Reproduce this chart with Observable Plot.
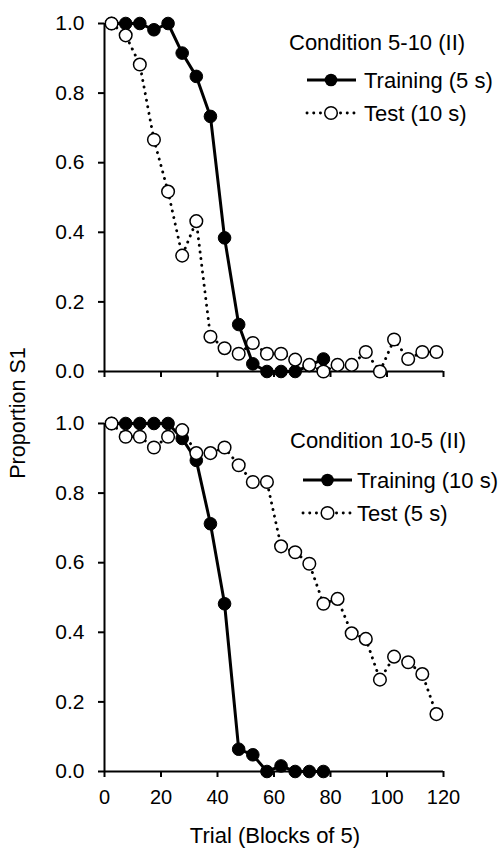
<!DOCTYPE html>
<html>
<head>
<meta charset="utf-8">
<script src="https://cdn.jsdelivr.net/npm/d3@7"></script>
<script src="https://cdn.jsdelivr.net/npm/@observablehq/plot@0.6"></script>
<style>
  body { margin: 0; background: #fff; }
  #wrap { position: relative; width: 501px; height: 850px; font-family: "Liberation Sans", Arial, sans-serif; color: #000; }
  #wrap svg { display: block; }
  #wrap svg [aria-label="y-axis tick label"] { font-size: 21px; }
  #wrap svg [aria-label="x-axis tick label"] { font-size: 20px; }
  #ylab { position: absolute; left: 18.5px; top: 413px; transform: translate(-50%, -50%) rotate(-90deg); font-size: 21.5px; white-space: nowrap; line-height: 1; }
</style>
</head>
<body>
<div id="wrap"><div id="ylab">Proportion S1</div></div>
<script>
// Trial block midpoints
const trialsTrain = [2.5, 7.5, 12.5, 17.5, 22.5, 27.5, 32.5, 37.5, 42.5, 47.5, 52.5, 57.5, 62.5, 67.5, 72.5, 77.5];
const trialsTest = [2.5, 7.5, 12.5, 17.5, 22.5, 27.5, 32.5, 37.5, 42.5, 47.5, 52.5, 57.5, 62.5, 67.5, 72.5, 77.5, 82.5, 87.5, 92.5, 97.5, 102.5, 107.5, 112.5, 117.5];

// Condition 5-10 (II)
const trainA = [1.0, 1.0, 1.0, 0.982, 1.0, 0.915, 0.848, 0.733, 0.384, 0.135, 0.022, 0, 0, 0, 0.017, 0.036];
const testA = [1.0, 0.966, 0.882, 0.666, 0.517, 0.333, 0.432, 0.1, 0.067, 0.051, 0.082, 0.051, 0.051, 0.034, 0.019, 0.0, 0.019, 0.019, 0.056, 0.0, 0.092, 0.036, 0.056, 0.056];

// Condition 10-5 (II)
const trainB = [1.0, 1.0, 1.0, 1.0, 1.0, 0.957, 0.894, 0.712, 0.482, 0.064, 0.048, 0, 0.016, 0, 0, 0];
const testB = [1.0, 0.962, 0.962, 0.931, 0.962, 0.981, 0.915, 0.915, 0.931, 0.88, 0.832, 0.832, 0.647, 0.63, 0.597, 0.482, 0.496, 0.397, 0.381, 0.264, 0.33, 0.314, 0.28, 0.165];

const yTicks = [0, 0.2, 0.4, 0.6, 0.8, 1.0];
const xTicks = [0, 20, 40, 60, 80, 100, 120];

const panels = [
  {title: "Condition 5-10 (II)", trainLabel: "Training (5 s)", testLabel: "Test (10 s)", train: trainA, test: testA, bottom: false},
  {title: "Condition 10-5 (II)", trainLabel: "Training (10 s)", testLabel: "Test (5 s)", train: trainB, test: testB, bottom: true}
];

const FONT = "'Liberation Sans', Arial, sans-serif";
const wrap = document.getElementById("wrap");

panels.forEach((p, i) => {
  const train = trialsTrain.map((t, k) => ({t, v: p.train[k]}));
  const test = trialsTest.map((t, k) => ({t, v: p.test[k]}));
  const height = p.bottom ? 450 : 400;
  const chart = Plot.plot({
    width: 501,
    height,
    marginLeft: 104,
    marginRight: 58,
    marginTop: 23,
    marginBottom: height - 371,
    style: {fontFamily: FONT, fontSize: "21px", color: "#000", background: "#fff", overflow: "visible"},
    x: {domain: [0, 120]},
    y: {domain: [0, 1]},
    marks: [
      Plot.axisY({ticks: yTicks, tickFormat: d3.format(".1f"), tickSize: 6, tickPadding: 14, strokeWidth: 2, label: null, fontSize: 21}),
      Plot.axisX({ticks: xTicks, tickSize: 6, tickPadding: 12, strokeWidth: 2, label: null, fontSize: 20,
        tickFormat: p.bottom ? d3.format("d") : () => ""}),
      Plot.ruleX([0], {stroke: "#000", strokeWidth: 2}),
      Plot.ruleY([0], {stroke: "#000", strokeWidth: 2}),
      Plot.line(train, {x: "t", y: "v", stroke: "#000", strokeWidth: 3}),
      Plot.dot(train, {x: "t", y: "v", r: 6.3, fill: "#000", stroke: "#000", strokeWidth: 1}),
      Plot.line(test, {x: "t", y: "v", stroke: "#000", strokeWidth: 2.9, strokeDasharray: "0.1 6.6", strokeLinecap: "round"}),
      Plot.dot(test, {x: "t", y: "v", r: 6.3, fill: "#fff", stroke: "#000", strokeWidth: 1.5})
    ]
  });
  const svg = d3.select(chart);
  const g = svg.append("g").attr("font-family", FONT).attr("font-size", 22).attr("fill", "#000").attr("text-anchor", "start");
  const lx0 = p.bottom ? 303 : 307, lx1 = p.bottom ? 352 : 356, cx = p.bottom ? 327.5 : 331, tx = p.bottom ? 357 : 364;
  const ty = p.bottom ? 47.5 : 50;
  g.append("text").attr("x", p.bottom ? 290 : 289).attr("y", ty).text(p.title);
  g.append("line").attr("x1", lx0).attr("x2", lx1).attr("y1", 80).attr("y2", 80).attr("stroke", "#000").attr("stroke-width", 3);
  g.append("circle").attr("cx", cx).attr("cy", 80).attr("r", 6.3).attr("fill", "#000");
  g.append("text").attr("x", tx).attr("y", 80).attr("dy", "0.36em").text(p.trainLabel);
  g.append("line").attr("x1", lx0).attr("x2", lx1).attr("y1", 113).attr("y2", 113).attr("stroke", "#000").attr("stroke-width", 2.9).attr("stroke-dasharray", "0.1 6.6").attr("stroke-linecap", "round");
  g.append("circle").attr("cx", cx).attr("cy", 113).attr("r", 6.3).attr("fill", "#fff").attr("stroke", "#000").attr("stroke-width", 1.5);
  g.append("text").attr("x", tx).attr("y", 113).attr("dy", "0.36em").text(p.testLabel);
  if (p.bottom) {
    g.append("text").attr("x", 275).attr("y", 443).attr("text-anchor", "middle").text("Trial (Blocks of 5)");
  }
  wrap.appendChild(chart);
});
</script>
</body>
</html>
